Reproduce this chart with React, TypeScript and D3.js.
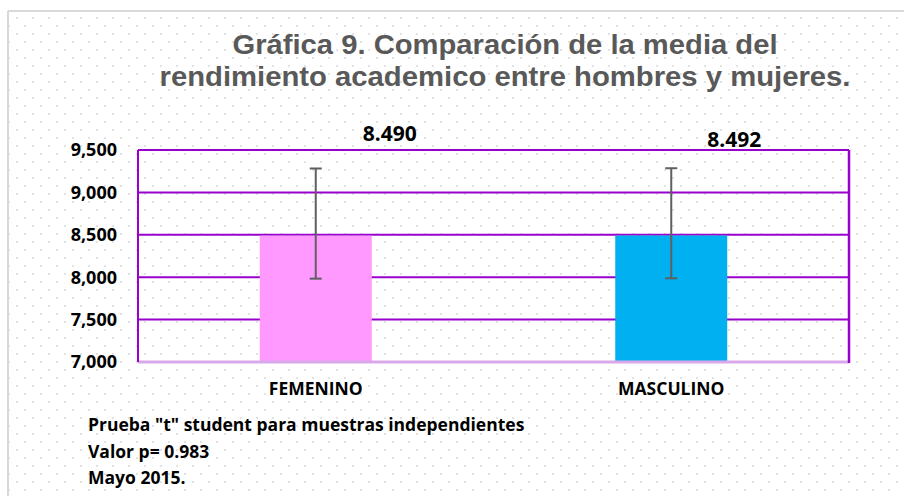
import React from 'react';
import * as d3 from 'd3';

const categories = ['FEMENINO', 'MASCULINO'];
const means = [8490, 8492];
const meanLabels = ['8.490', '8.492'];
const errorHigh = [9282, 9285];
const errorLow = [7983, 7987];
const barColors = ['#ff99ff', '#00b0f0'];
const yTicks = [7000, 7500, 8000, 8500, 9000, 9500];
const titleLines = [
    'Gráfica 9. Comparación de la media del',
    'rendimiento academico entre hombres y mujeres.',
];
const notes = [
    'Prueba "t" student para muestras independientes',
    'Valor p= 0.983',
    'Mayo 2015.',
];

const width = 904;
const height = 496;
const margin = { left: 138, right: 55, top: 150, bottom: 134 };
const labelShift = [74, 63];
const labelLift = [21, 15];

const App = () => {
    const x = d3
        .scaleBand<string>()
        .domain(categories)
        .range([margin.left, width - margin.right])
        .padding(0);
    const y = d3
        .scaleLinear()
        .domain([7000, 9500])
        .range([height - margin.bottom, margin.top]);

    const barW = x.step() * 0.315;
    const purple = '#9900cc';
    const sans = "'Open Sans', sans-serif";

    return (
        <svg width={width} height={height} style={{ position: 'absolute', left: 0, top: 0, background: '#fff' }}>
            <defs>
                <pattern id="dots" width={16} height={16} patternUnits="userSpaceOnUse" x={0} y={1}>
                    <rect x={0} y={0} width={2} height={2} fill="#e3e3e3" />
                    <rect x={8} y={8} width={2} height={2} fill="#e3e3e3" />
                </pattern>
            </defs>
            <rect x={9} y={12} width={width} height={height} fill="url(#dots)" />
            <line x1={8} x2={8} y1={11} y2={height} stroke="#d9d9d9" strokeWidth={2} />
            <line x1={8} x2={width} y1={11} y2={11} stroke="#d9d9d9" strokeWidth={2} />

            {titleLines.map((t, i) => (
                <text
                    key={t}
                    x={505}
                    y={54 + i * 32}
                    textAnchor="middle"
                    fontFamily="'Liberation Sans', Arial, sans-serif"
                    fontWeight="bold"
                    fontSize={27}
                    fill="#595959"
                    textLength={i === 0 ? 545 : 691}
                    lengthAdjust="spacingAndGlyphs"
                >
                    {t}
                </text>
            ))}

            {/* gridlines */}
            {yTicks.slice(1).map((t) => (
                <line key={t} x1={margin.left} x2={width - margin.right} y1={y(t)} y2={y(t)} stroke={purple} strokeWidth={2} />
            ))}

            {/* bars */}
            {categories.map((c, i) => (
                <rect
                    key={c}
                    x={x(c)! + x.step() / 2 - barW / 2}
                    y={y(means[i])}
                    width={barW}
                    height={y(7000) - y(means[i])}
                    fill={barColors[i]}
                />
            ))}

            {/* axes frame */}
            <line x1={margin.left} x2={width - margin.right} y1={y(7000)} y2={y(7000)} stroke="#d9a8ea" strokeWidth={3} />
            <line x1={margin.left} x2={margin.left} y1={y(9500)} y2={y(7000)} stroke={purple} strokeWidth={2} />
            <line x1={width - margin.right} x2={width - margin.right} y1={y(9500)} y2={y(7000) + 1} stroke={purple} strokeWidth={2.5} />

            {/* error bars */}
            {categories.map((c, i) => {
                const cx = x(c)! + x.step() / 2;
                return (
                    <g key={c} stroke="#5f5f5f" strokeWidth={2}>
                        <line x1={cx} x2={cx} y1={y(errorHigh[i])} y2={y(errorLow[i])} />
                        <line x1={cx - 6} x2={cx + 6} y1={y(errorHigh[i])} y2={y(errorHigh[i])} />
                        <line x1={cx - 6} x2={cx + 6} y1={y(errorLow[i])} y2={y(errorLow[i])} />
                    </g>
                );
            })}

            {/* value labels */}
            {categories.map((c, i) => (
                <text
                    key={c}
                    x={x(c)! + x.step() / 2 + labelShift[i]}
                    y={y(9500) - 9 + (labelLift[0] - labelLift[i])}
                    textAnchor="middle"
                    fontFamily={sans}
                    fontWeight="bold"
                    fontSize={21}
                    fill="#000"
                >
                    {meanLabels[i]}
                </text>
            ))}

            {/* y tick labels */}
            {yTicks.map((t) => (
                <text
                    key={t}
                    x={117}
                    y={y(t)}
                    dy="0.36em"
                    textAnchor="end"
                    fontFamily={sans}
                    fontWeight="bold"
                    fontSize={18}
                    fill="#000"
                >
                    {d3.format(',')(t)}
                </text>
            ))}

            {/* category labels */}
            {categories.map((c) => (
                <text
                    key={c}
                    x={x(c)! + x.step() / 2}
                    y={395}
                    textAnchor="middle"
                    fontFamily={sans}
                    fontWeight="bold"
                    fontSize={17.5}
                    fill="#000"
                >
                    {c}
                </text>
            ))}

            {notes.map((n, i) => (
                <text key={n} x={88} y={431 + i * 26.5} fontFamily={sans} fontWeight="bold" fontSize={17.5} fill="#000">
                    {n}
                </text>
            ))}
        </svg>
    );
};

export default App;
